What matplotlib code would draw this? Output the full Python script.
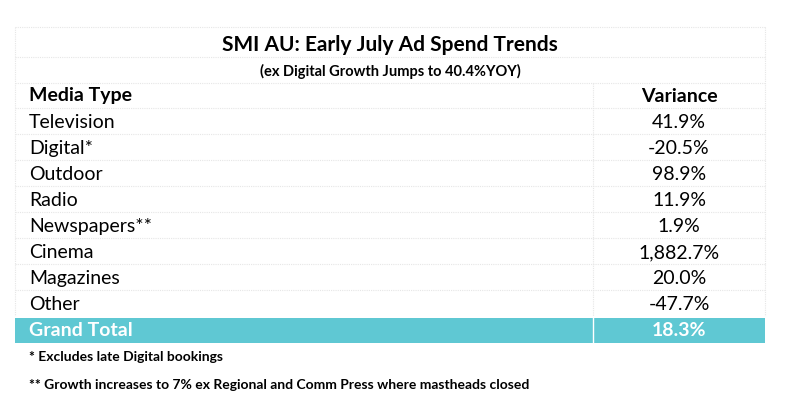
import matplotlib.pyplot as plt
from matplotlib.patches import Rectangle

title = "SMI AU: Early July Ad Spend Trends"
subtitle = "(ex Digital Growth Jumps to 40.4%YOY)"
headers = ["Media Type", "Variance"]
media = ["Television", "Digital*", "Outdoor", "Radio", "Newspapers**",
         "Cinema", "Magazines", "Other"]
variance = [41.9, -20.5, 98.9, 11.9, 1.9, 1882.7, 20.0, -47.7]
total_label = "Grand Total"
total_value = 18.3
notes = ["* Excludes late Digital bookings",
         "** Growth increases to 7% ex Regional and Comm Press where mastheads closed"]

plt.rcParams['font.family'] = ['Lato', 'DejaVu Sans']

W, H = 800, 418
fig = plt.figure(figsize=(W / 100, H / 100), dpi=100)
ax = fig.add_axes([0, 0, 1, 1])
ax.set_xlim(0, W)
ax.set_ylim(H, 0)
ax.axis('off')

x0, x1, xdiv = 15, 765, 593
xc_val = (xdiv + x1) / 2
grid = dict(color='#e6e6e6', lw=0.8, ls=(0, (1, 1)))

# title block
ax.text((x0 + x1) / 2, 45, title, ha='center', va='center', fontsize=15, fontweight='bold')
ax.text((x0 + x1) / 2, 71, subtitle, ha='center', va='center', fontsize=10.5, fontweight='bold')
for y in [27, 57, 83]:
    ax.plot([x0, x1], [y, y], **grid)

# header
row_h = 26
y_head = 95
ax.text(x0 + 14, y_head + 1, headers[0], ha='left', va='center', fontsize=14, fontweight='bold')
ax.text(xc_val, y_head + 1, headers[1], ha='center', va='center', fontsize=14, fontweight='bold')

# rows
for i, (m, v) in enumerate(zip(media, variance)):
    y = y_head + row_h * (i + 1)
    ax.text(x0 + 14, y + 1.5, m, ha='left', va='center', fontsize=14)
    ax.text(xc_val, y + 1.5, f"{v:,.1f}%", ha='center', va='center', fontsize=14)
    ax.plot([x0, x1], [y - row_h / 2, y - row_h / 2], **grid)

y_tot = y_head + row_h * (len(media) + 1)
ax.plot([xdiv, xdiv], [83, y_tot - row_h / 2], **grid)
ax.plot([x0, x0], [27, y_tot - row_h / 2], **grid)
ax.plot([x1, x1], [27, y_tot - row_h / 2], **grid)

# grand total band
ax.add_patch(Rectangle((x0, y_tot - row_h / 2 + 1.5), x1 - x0, row_h - 1,
                       facecolor='#5fc8d3', edgecolor='none'))
ax.plot([xdiv, xdiv], [y_tot - row_h / 2 + 1.5, y_tot + row_h / 2 + 0.5], color='white', lw=1)
ax.text(x0 + 14, y_tot + 1.5, total_label, ha='left', va='center', fontsize=14,
        fontweight='bold', color='white')
ax.text(xc_val, y_tot + 1.5, f"{total_value:.1f}%", ha='center', va='center', fontsize=14,
        fontweight='bold', color='white')

# footnotes
ax.text(x0 + 14, 357, notes[0], ha='left', va='center', fontsize=10, fontweight='bold')
ax.text(x0 + 14, 385, notes[1], ha='left', va='center', fontsize=10, fontweight='bold')

fig.savefig('out.png', dpi=100, facecolor='white')
